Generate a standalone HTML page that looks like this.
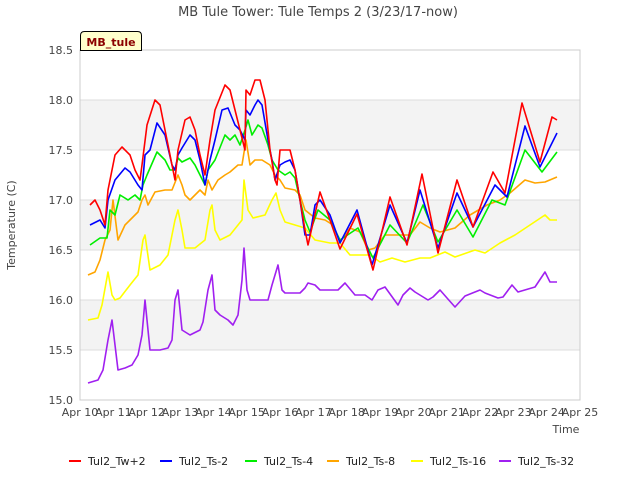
<!DOCTYPE html>
<html><head><meta charset="utf-8"><style>
body{margin:0;background:#fff;}
svg{display:block;font-family:"DejaVu Sans","Liberation Sans",sans-serif;}
</style></head><body>
<svg id="chart" width="640" height="480">
<rect x="0" y="0" width="640" height="480" fill="#fff"/>
<text x="318" y="16" text-anchor="middle" font-size="13" fill="#444">MB Tule Tower: Tule Temps 2 (3/23/17-now)</text>
<g id="bands"></g>
<g id="yticks"></g>
<g id="xticks"></g>
<rect x="80" y="50" width="500" height="350" fill="none" stroke="#ccc"/>
<g id="series"></g>
<text x="15" y="225" transform="rotate(-90 15 225)" text-anchor="middle" font-size="11" fill="#444">Temperature (C)</text>
<text x="566" y="433" text-anchor="middle" font-size="11" fill="#444">Time</text>
<g>
<path d="M80.5,50.5 L80.5,35.5 Q80.5,31.5 84.5,31.5 L137.5,31.5 Q141.5,31.5 141.5,35.5 L141.5,50.5 Z" fill="#ffffcc" stroke="#000"/>
<text x="111" y="46" text-anchor="middle" font-size="11" font-weight="bold" fill="#8b0000">MB_tule</text>
</g>
<g id="legend"></g>
</svg>
<script>
const yTicks=[15.0,15.5,16.0,16.5,17.0,17.5,18.0,18.5];
const xTickLabels=["Apr 10","Apr 11","Apr 12","Apr 13","Apr 14","Apr 15","Apr 16","Apr 17","Apr 18","Apr 19","Apr 20","Apr 21","Apr 22","Apr 23","Apr 24","Apr 25"];
const seriesNames=["Tul2_Tw+2","Tul2_Ts-2","Tul2_Ts-4","Tul2_Ts-8","Tul2_Ts-16","Tul2_Ts-32"];
const seriesColors=["#ff0000","#0000ff","#00ee00","#ffa500","#ffff00","#a020f0"];
const twDays=[0.30,0.45,0.60,0.75,0.84,1.05,1.26,1.50,1.65,1.80,1.86,2.01,2.25,2.40,2.55,2.76,2.85,2.94,3.15,3.30,3.45,3.60,3.75,3.90,4.05,4.35,4.50,4.65,4.80,4.95,4.98,5.10,5.25,5.40,5.55,5.70,5.85,5.91,6.00,6.15,6.30,6.45,6.60,6.75,6.84,7.20,7.50,7.80,8.31,8.79,9.30,9.81,10.26,10.74,11.31,11.79,12.39,12.75,13.26,13.80,14.16,14.31];
const twVals=[16.95,17.00,16.90,16.75,17.10,17.45,17.53,17.45,17.30,17.20,17.35,17.75,18.00,17.95,17.70,17.35,17.20,17.50,17.80,17.83,17.70,17.45,17.25,17.60,17.90,18.15,18.10,17.90,17.70,17.50,18.10,18.05,18.20,18.20,18.00,17.50,17.20,17.15,17.50,17.50,17.50,17.30,17.00,16.70,16.55,17.08,16.80,16.51,16.86,16.30,17.03,16.55,17.26,16.47,17.20,16.73,17.28,17.07,17.97,17.38,17.83,17.80];
const ts2Days=[0.30,0.60,0.75,0.84,1.05,1.35,1.50,1.74,1.86,1.95,2.10,2.31,2.55,2.76,2.85,2.94,3.06,3.30,3.45,3.60,3.75,3.90,4.05,4.26,4.44,4.65,4.80,4.95,4.98,5.10,5.25,5.34,5.46,5.64,5.76,5.85,6.00,6.15,6.30,6.45,6.60,6.75,6.90,7.05,7.20,7.50,7.80,8.31,8.76,9.30,9.81,10.20,10.74,11.31,11.79,12.45,12.81,13.35,13.80,14.31];
const ts2Vals=[16.75,16.80,16.72,17.00,17.20,17.32,17.28,17.15,17.10,17.45,17.50,17.77,17.65,17.35,17.30,17.45,17.52,17.65,17.60,17.40,17.15,17.40,17.60,17.90,17.92,17.75,17.70,17.60,17.90,17.85,17.95,18.00,17.95,17.60,17.40,17.20,17.35,17.38,17.40,17.30,17.00,16.65,16.65,16.95,17.00,16.85,16.57,16.90,16.35,16.95,16.57,17.10,16.52,17.07,16.73,17.15,17.03,17.74,17.33,17.67];
const ts4Days=[0.30,0.60,0.81,0.90,1.05,1.20,1.44,1.65,1.80,1.89,2.01,2.31,2.55,2.70,2.85,2.94,3.06,3.30,3.45,3.60,3.75,3.84,4.05,4.35,4.50,4.65,4.80,4.95,5.04,5.16,5.34,5.46,5.64,5.76,5.94,6.15,6.30,6.45,6.60,6.75,6.90,7.14,7.50,7.80,8.34,8.79,9.30,9.81,10.29,10.74,11.31,11.79,12.36,12.75,13.35,13.86,14.31];
const ts4Vals=[16.55,16.62,16.62,16.90,16.85,17.05,17.00,17.05,17.00,17.15,17.25,17.48,17.40,17.30,17.30,17.42,17.38,17.42,17.35,17.25,17.15,17.30,17.40,17.65,17.60,17.65,17.55,17.70,17.80,17.65,17.75,17.72,17.55,17.40,17.30,17.25,17.28,17.22,17.00,16.80,16.68,16.90,16.80,16.60,16.72,16.42,16.75,16.57,16.95,16.58,16.90,16.63,17.00,16.95,17.50,17.28,17.48];
const ts8Days=[0.24,0.45,0.60,0.75,0.90,0.99,1.14,1.35,1.50,1.74,1.86,1.95,2.04,2.25,2.55,2.76,2.94,3.06,3.15,3.30,3.60,3.75,3.84,3.96,4.14,4.35,4.50,4.74,4.86,4.98,5.10,5.25,5.46,5.70,5.85,6.00,6.15,6.45,6.60,6.75,7.05,7.35,7.59,7.80,8.10,8.40,8.64,8.85,9.15,9.51,9.90,10.20,10.50,10.80,11.25,11.70,12.21,12.60,12.90,13.35,13.65,13.95,14.31];
const ts8Vals=[16.25,16.28,16.40,16.60,16.70,17.00,16.60,16.75,16.80,16.88,17.00,17.05,16.95,17.08,17.10,17.10,17.25,17.15,17.05,17.00,17.10,17.05,17.20,17.10,17.20,17.25,17.28,17.35,17.35,17.60,17.35,17.40,17.40,17.35,17.25,17.20,17.12,17.10,17.05,16.90,16.82,16.80,16.75,16.58,16.72,16.68,16.50,16.52,16.65,16.65,16.65,16.78,16.72,16.68,16.72,16.85,16.95,17.00,17.07,17.20,17.17,17.18,17.23];
const ts16Days=[0.24,0.54,0.66,0.84,0.96,1.05,1.20,1.50,1.74,1.89,1.95,2.10,2.40,2.64,2.85,2.94,3.06,3.15,3.45,3.75,3.90,3.96,4.05,4.20,4.50,4.74,4.86,4.92,5.04,5.19,5.55,5.76,5.88,6.00,6.15,6.45,6.75,7.05,7.50,7.80,8.10,8.70,9.00,9.36,9.75,10.20,10.50,10.95,11.25,11.85,12.15,12.60,13.05,13.50,13.95,14.10,14.31];
const ts16Vals=[15.80,15.82,15.95,16.28,16.05,16.00,16.02,16.15,16.25,16.60,16.65,16.30,16.35,16.45,16.80,16.90,16.70,16.52,16.52,16.60,16.90,16.95,16.70,16.60,16.65,16.75,16.80,17.20,16.90,16.82,16.85,17.00,17.07,16.90,16.78,16.75,16.72,16.60,16.57,16.57,16.45,16.45,16.38,16.42,16.38,16.42,16.42,16.48,16.43,16.50,16.47,16.57,16.65,16.75,16.85,16.80,16.80];
const ts32Days=[0.24,0.54,0.69,0.84,0.96,1.05,1.14,1.35,1.56,1.74,1.86,1.95,2.04,2.10,2.40,2.64,2.76,2.85,2.94,3.06,3.30,3.60,3.69,3.84,3.96,4.05,4.20,4.44,4.59,4.74,4.86,4.92,5.01,5.10,5.40,5.64,5.76,5.94,6.06,6.15,6.60,6.75,6.84,7.05,7.20,7.50,7.74,7.95,8.25,8.55,8.76,8.94,9.15,9.54,9.69,9.90,10.05,10.44,10.59,10.80,11.01,11.25,11.55,12.00,12.15,12.54,12.69,12.96,13.14,13.65,13.95,14.10,14.31];
const ts32Vals=[15.17,15.20,15.30,15.60,15.80,15.55,15.30,15.32,15.35,15.45,15.65,16.00,15.70,15.50,15.50,15.52,15.60,16.00,16.10,15.70,15.65,15.70,15.78,16.10,16.25,15.90,15.85,15.80,15.75,15.85,16.20,16.52,16.10,16.00,16.00,16.00,16.15,16.35,16.10,16.07,16.07,16.12,16.17,16.15,16.10,16.10,16.10,16.17,16.05,16.05,16.00,16.10,16.13,15.95,16.05,16.12,16.08,16.00,16.03,16.10,16.02,15.93,16.04,16.10,16.07,16.02,16.03,16.15,16.08,16.13,16.28,16.18,16.18];

const allDays=[twDays,ts2Days,ts4Days,ts8Days,ts16Days,ts32Days];
const allVals=[twVals,ts2Vals,ts4Vals,ts8Vals,ts16Vals,ts32Vals];
const NS="http://www.w3.org/2000/svg";
const X0=80,X1=580,Y0=400,Y1=50,YMIN=15,YMAX=18.5,DMAX=15;
function xs(d){return X0+(X1-X0)*d/DMAX;}
function ys(v){return Y0-(Y0-Y1)*(v-YMIN)/(YMAX-YMIN);}
function mk(tag,attrs,parent){const e=document.createElementNS(NS,tag);for(const k in attrs)e.setAttribute(k,attrs[k]);parent.appendChild(e);return e;}
const bands=document.getElementById('bands');
for(let i=0;i<yTicks.length-1;i++){
  if(i%2===1){
    const r=mk('rect',{x:X0,y:ys(yTicks[i+1]),width:X1-X0,height:ys(yTicks[i])-ys(yTicks[i+1]),fill:'#f3f3f3'},bands);
    
    
  }
}
const yg=document.getElementById('yticks');
yTicks.forEach(v=>{
  const l=mk('line',{x1:X0,x2:X1,y1:ys(v),y2:ys(v),stroke:'#ddd'},yg);
  
  
  const t=mk('text',{x:73,y:ys(v)+4,'text-anchor':'end','font-size':'11',fill:'#444'},yg);
  t.textContent=v.toFixed(1);
  
  
});
const xg=document.getElementById('xticks');
xTickLabels.forEach((s,i)=>{
  const t=mk('text',{x:xs(i),y:416,'text-anchor':'middle','font-size':'11',fill:'#444'},xg);
  t.textContent=s;
  
  
});
const sg=document.getElementById('series');
for(let s=allDays.length-1;s>=0;s--){
  const pts=allDays[s].map((d,i)=>xs(d).toFixed(1)+','+ys(allVals[s][i]).toFixed(1)).join(' ');
  const p=mk('polyline',{points:pts,fill:'none',stroke:seriesColors[s],'stroke-width':'1.6','stroke-linejoin':'round'},sg);
  
  
}
const lg=document.getElementById('legend');
const legX=[69,160,245,327,411,499];
seriesNames.forEach((n,i)=>{
  const g=mk('g',{},lg);
  
  
  mk('line',{x1:legX[i],x2:legX[i]+12,y1:461,y2:461,stroke:seriesColors[i],'stroke-width':'2'},g);
  const t=mk('text',{x:legX[i]+19,y:465,'font-size':'11',fill:'#222'},g);
  t.textContent=n;
});
</script>
</body></html>
